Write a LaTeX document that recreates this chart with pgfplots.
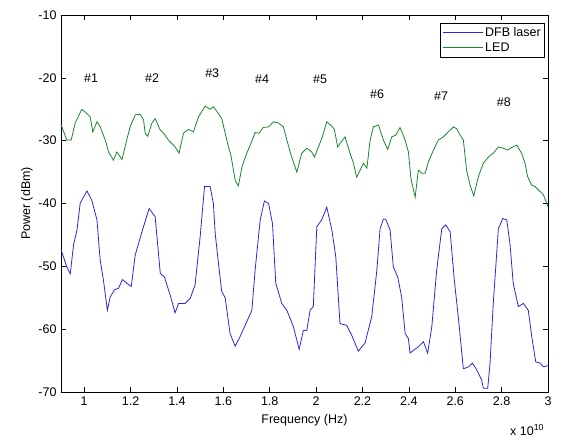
\documentclass[border=0pt]{standalone}
\usepackage{fontspec}
\setmainfont{Liberation Sans}
\usepackage{pgfplots}
\pgfplotsset{compat=1.18}
\newcommand\fs{\fontsize{12.5}{14}\selectfont}
\definecolor{mblue}{RGB}{40,40,225}
\definecolor{mgreen}{RGB}{25,135,45}
\begin{document}
\begin{tikzpicture}
\path[use as bounding box] (-61pt,-47pt) rectangle (501pt,392pt);
\begin{axis}[
  name=ax,
  at={(0pt,0pt)}, anchor=south west,
  scale only axis, width=487pt, height=377pt,
  xmin=0.9, xmax=3, ymin=-70, ymax=-10,
  xtick={1,1.2,1.4,1.6,1.8,2,2.2,2.4,2.6,2.8,3},
  xticklabels={1,1.2,1.4,1.6,1.8,2,2.2,2.4,2.6,2.8,3},
  ytick={-70,-60,-50,-40,-30,-20,-10},
  yticklabels={-70,-60,-50,-40,-30,-20,-10},
  tick align=inside, tick pos=both,
  major tick length=5pt,
  every tick/.style={black, line width=0.6pt},
  axis line style={line width=0.7pt},
  tick label style={font=\fs},
  xticklabel style={yshift=-1pt},
  yticklabel style={xshift=-1pt},
  xlabel={Frequency (Hz)}, ylabel={Power (dBm)},
  xlabel style={font=\fs, at={(axis description cs:0.5,-0.074)}, anchor=center},
  ylabel style={font=\fs, at={(axis description cs:-0.070,0.5)}, anchor=center, rotate=0},
  legend style={font=\fs, at={(rel axis cs:0.994,0.979)}, anchor=north east, draw=black, line width=0.6pt, inner sep=2pt, row sep=1pt},
  legend cell align=left,
  legend image code/.code={\draw[#1, line width=0.8pt] (0pt,0pt) -- (40pt,0pt);},
]
\addplot[mblue, line width=0.8pt] table {
0.900 -47.3
0.925 -50.1
0.940 -51.2
0.954 -46.6
0.969 -44.2
0.983 -39.9
1.012 -38.0
1.033 -39.5
1.055 -42.6
1.069 -49.0
1.083 -52.2
1.100 -57.0
1.112 -54.9
1.131 -53.7
1.148 -53.5
1.165 -52.1
1.184 -52.7
1.203 -53.2
1.220 -48.2
1.249 -44.5
1.280 -40.8
1.306 -42.1
1.328 -51.1
1.346 -51.7
1.371 -54.6
1.392 -57.4
1.407 -55.9
1.435 -55.9
1.457 -55.1
1.478 -53.0
1.500 -45.3
1.519 -37.3
1.543 -37.3
1.557 -40.0
1.565 -44.8
1.579 -49.5
1.593 -54.0
1.608 -55.0
1.629 -60.7
1.651 -62.7
1.672 -61.2
1.694 -59.4
1.723 -57.0
1.737 -50.6
1.759 -42.6
1.777 -39.6
1.795 -40.0
1.812 -43.2
1.826 -52.7
1.852 -55.9
1.874 -57.0
1.902 -59.6
1.927 -63.2
1.945 -60.2
1.960 -60.2
1.974 -57.0
1.988 -56.4
2.003 -43.7
2.024 -42.6
2.046 -40.6
2.068 -44.2
2.085 -48.5
2.103 -59.1
2.132 -59.4
2.154 -61.0
2.182 -63.5
2.211 -62.2
2.240 -58.0
2.262 -50.6
2.276 -44.0
2.290 -42.5
2.300 -42.5
2.319 -44.2
2.333 -50.1
2.352 -51.7
2.369 -54.9
2.384 -60.7
2.398 -61.5
2.405 -63.8
2.419 -63.4
2.441 -62.8
2.463 -62.0
2.481 -63.8
2.499 -59.6
2.520 -50.6
2.542 -44.0
2.559 -43.4
2.578 -44.5
2.596 -52.2
2.613 -58.0
2.635 -66.3
2.657 -66.0
2.674 -65.4
2.693 -66.5
2.714 -68.1
2.721 -69.4
2.740 -69.4
2.750 -65.5
2.764 -55.9
2.786 -44.0
2.805 -42.4
2.822 -42.6
2.836 -46.4
2.850 -52.7
2.872 -56.4
2.894 -55.9
2.915 -57.0
2.930 -61.2
2.947 -65.2
2.966 -65.4
2.980 -66.0
3.000 -65.8
};
\addlegendentry{DFB laser}
\addplot[mgreen, line width=0.8pt] table {
0.900 -27.5
0.904 -27.8
0.925 -29.9
0.944 -29.9
0.961 -27.2
0.990 -25.0
1.012 -25.7
1.026 -26.2
1.037 -28.6
1.055 -27.0
1.069 -27.8
1.091 -29.9
1.105 -31.8
1.126 -33.1
1.141 -31.8
1.163 -33.0
1.180 -30.4
1.198 -27.8
1.220 -25.9
1.241 -25.8
1.256 -26.7
1.263 -28.8
1.274 -29.3
1.292 -27.2
1.306 -26.5
1.328 -28.3
1.342 -28.8
1.363 -29.9
1.392 -31.0
1.409 -32.0
1.428 -28.8
1.450 -28.2
1.471 -28.6
1.493 -26.2
1.522 -24.5
1.543 -25.0
1.557 -24.6
1.579 -25.7
1.593 -26.5
1.615 -29.9
1.634 -32.6
1.651 -36.3
1.665 -37.2
1.680 -34.2
1.701 -32.0
1.716 -30.7
1.737 -28.7
1.754 -28.8
1.772 -27.9
1.795 -27.8
1.816 -27.0
1.838 -27.2
1.859 -27.8
1.874 -29.9
1.892 -32.3
1.917 -35.0
1.938 -32.0
1.960 -31.2
1.981 -31.8
1.993 -32.6
2.010 -31.0
2.027 -29.4
2.046 -27.0
2.068 -27.7
2.079 -28.2
2.093 -31.0
2.108 -30.2
2.125 -29.4
2.142 -31.5
2.161 -33.6
2.175 -35.8
2.190 -34.7
2.204 -33.6
2.219 -34.4
2.233 -29.9
2.247 -27.8
2.269 -27.5
2.290 -29.9
2.309 -31.4
2.326 -29.4
2.344 -29.1
2.362 -27.9
2.384 -29.9
2.398 -31.8
2.409 -36.0
2.427 -39.0
2.441 -34.7
2.456 -35.2
2.470 -35.2
2.484 -33.4
2.506 -31.5
2.527 -29.9
2.549 -29.4
2.570 -28.6
2.592 -27.8
2.606 -28.1
2.621 -29.1
2.635 -29.9
2.649 -34.7
2.664 -37.1
2.680 -38.8
2.700 -35.7
2.721 -33.6
2.743 -32.6
2.764 -32.0
2.786 -31.0
2.807 -31.2
2.826 -31.5
2.843 -31.1
2.865 -30.7
2.886 -32.0
2.901 -33.6
2.912 -35.7
2.930 -37.1
2.944 -37.3
2.966 -38.1
2.980 -38.6
3.000 -40.5
};
\addlegendentry{LED}
\node[font=\fs] at (axis cs:1.03,-20.0) {\#1};
\node[font=\fs] at (axis cs:1.293,-20.0) {\#2};
\node[font=\fs] at (axis cs:1.552,-19.2) {\#3};
\node[font=\fs] at (axis cs:1.767,-20.2) {\#4};
\node[font=\fs] at (axis cs:2.017,-20.2) {\#5};
\node[font=\fs] at (axis cs:2.263,-22.6) {\#6};
\node[font=\fs] at (axis cs:2.539,-22.9) {\#7};
\node[font=\fs] at (axis cs:2.81,-23.9) {\#8};
\end{axis}
\node[font=\fs, anchor=west, inner sep=0pt] at ([xshift=449pt, yshift=-38pt]ax.south west) {x 10\textsuperscript{10}};
\end{tikzpicture}
\end{document}
